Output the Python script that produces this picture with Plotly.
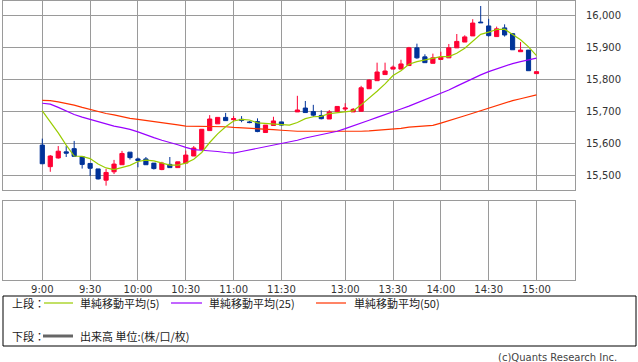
import plotly.graph_objects as go

# ---- data (5-minute bars; slot 31 is the empty slot between 11:30 and 12:30) ----
tick_labels = ["9:00", "9:30", "10:00", "10:30", "11:00", "11:30",
               "13:00", "13:30", "14:00", "14:30", "15:00"]
tick_slots = [0, 6, 12, 18, 24, 30, 38, 44, 50, 56, 62]

bar_slots = list(range(0, 31)) + list(range(32, 63))

opens = [15596, 15529, 15556, 15575, 15585, 15560, 15539, 15522, 15487, 15513,
         15535, 15574, 15553, 15553, 15540, 15520, 15536, 15526, 15540, 15562,
         15582, 15641, 15662, 15682, 15675, 15676, 15668, 15669, 15635, 15657,
         15668,
         15699, 15711, 15700, 15688, 15677, 15700, 15708, 15699, 15701, 15771,
         15796, 15815, 15832, 15832, 15843, 15898, 15870, 15850, 15862, 15867,
         15898, 15916, 15935, 15978, 15966, 15933, 15960, 15942, 15886, 15891,
         15818]
highs = [15616, 15565, 15593, 15593, 15609, 15560, 15539, 15522, 15522, 15550,
         15578, 15574, 15557, 15559, 15540, 15544, 15559, 15544, 15579, 15593,
         15646, 15689, 15682, 15696, 15686, 15686, 15671, 15679, 15658, 15684,
         15668,
         15749, 15733, 15721, 15704, 15705, 15717, 15726, 15711, 15780, 15800,
         15852, 15852, 15843, 15861, 15901, 15911, 15878, 15880, 15886, 15910,
         15941, 15937, 15987, 16028, 15988, 15964, 15971, 15943, 15916, 15891,
         15824]
lows = [15538, 15513, 15554, 15559, 15560, 15523, 15500, 15489, 15470, 15506,
        15535, 15551, 15527, 15535, 15520, 15518, 15526, 15526, 15540, 15562,
        15582, 15641, 15662, 15672, 15669, 15667, 15664, 15636, 15635, 15657,
        15657,
        15699, 15697, 15684, 15676, 15677, 15700, 15699, 15699, 15701, 15771,
        15796, 15815, 15832, 15832, 15843, 15864, 15852, 15850, 15862, 15867,
        15898, 15916, 15935, 15976, 15933, 15933, 15933, 15892, 15886, 15827,
        15818]
closes = [15538, 15562, 15577, 15571, 15561, 15536, 15524, 15491, 15511, 15537,
          15570, 15557, 15548, 15535, 15523, 15540, 15526, 15544, 15565, 15587,
          15645, 15677, 15682, 15672, 15678, 15673, 15666, 15638, 15658, 15671,
          15658,
          15705, 15697, 15689, 15678, 15699, 15716, 15711, 15707, 15774, 15798,
          15823, 15826, 15838, 15848, 15898, 15867, 15852, 15867, 15869, 15898,
          15918, 15932, 15975, 15976, 15936, 15957, 15938, 15892, 15891, 15827,
          15824]

ma_slots = list(range(0, 63))
ma5 = [15702, 15669, 15634, 15596, 15562, 15561, 15554, 15537, 15525, 15520,
       15527, 15533, 15545, 15549, 15547, 15541, 15534, 15534, 15540, 15552,
       15573, 15604, 15631, 15653, 15671, 15676, 15674, 15665, 15663, 15661,
       15658, 15658, 15666, 15678, 15684, 15685, 15694, 15696, 15699, 15702,
       15721, 15741, 15763, 15786, 15812, 15827, 15847, 15855, 15861, 15866,
       15871, 15871, 15881, 15897, 15918, 15940, 15947, 15955, 15956, 15940,
       15923, 15901, 15874]
ma25 = [15726, 15723, 15713, 15701, 15691, 15683, 15676, 15668, 15660, 15655,
        15650, 15645, 15637, 15627, 15619, 15611, 15605, 15597, 15589, 15582,
        15580, 15579, 15576, 15573, 15571, 15576, 15581, 15585, 15589, 15594,
        15599, 15604, 15611, 15618, 15623, 15627, 15632, 15639, 15647, 15655,
        15664, 15673, 15682, 15690, 15699, 15708, 15717, 15727, 15736, 15746,
        15755, 15767, 15779, 15791, 15803, 15814, 15824, 15833, 15841, 15849,
        15855, 15861, 15866]
ma50 = [15735, 15734, 15730, 15726, 15720, 15713, 15706, 15699, 15694, 15690,
        15684, 15679, 15676, 15673, 15670, 15666, 15662, 15659, 15655, 15655,
        15655, 15655, 15654, 15653, 15651, 15650, 15649, 15648, 15646, 15644,
        15642, 15640, 15639, 15639, 15639, 15638, 15638, 15637, 15637, 15638,
        15639, 15640, 15642, 15643, 15645, 15648, 15652, 15653, 15655, 15657,
        15664, 15671, 15679, 15687, 15695, 15703, 15711, 15719, 15727, 15734,
        15740, 15746, 15752]

price_ticks = [15500, 15600, 15700, 15800, 15900, 16000]

# ---- styles ----
RED = "#ff0033"
BLUE = "#003399"
C5 = "#99cc00"
C25 = "#9900ff"
C50 = "#ff3300"
GRID = "#9a9a9a"
FONT = "DejaVu Sans"
JFONT = "Noto Sans CJK JP"

W, H = 638, 362
L, R, T, B = 3, 63, 1, 82
PW = W - L - R
PH = H - T - B


def px(xp):
    return (xp - L) / PW


def py(yp):
    return (H - B - yp) / PH


fig = go.Figure()
fig.add_trace(go.Candlestick(
    x=bar_slots, open=opens, high=highs, low=lows, close=closes,
    increasing=dict(line=dict(color=RED, width=1), fillcolor=RED),
    decreasing=dict(line=dict(color=BLUE, width=1), fillcolor=BLUE),
    whiskerwidth=0, showlegend=False, xaxis="x", yaxis="y"))
for vals, col in [(ma50, C50), (ma25, C25), (ma5, C5)]:
    fig.add_trace(go.Scatter(x=ma_slots, y=vals, mode="lines",
                             line=dict(color=col, width=1.2),
                             showlegend=False, xaxis="x", yaxis="y"))
fig.add_trace(go.Scatter(x=[0], y=[None], mode="lines", showlegend=False,
                         xaxis="x2", yaxis="y2"))

xr = [-4.93, 66.83]
common_x = dict(range=xr, tickvals=tick_slots, ticktext=tick_labels,
                showgrid=True, gridcolor=GRID, gridwidth=1, showline=True,
                mirror=True, linecolor=GRID, linewidth=1, zeroline=False,
                ticks="", fixedrange=True)

fig.update_layout(
    width=W, height=H,
    margin=dict(l=L, r=R, t=T, b=B),
    paper_bgcolor="white", plot_bgcolor="white",
    boxgap=0.25,
    xaxis=dict(domain=[0, 1], anchor="y", showticklabels=False,
               rangeslider=dict(visible=False), **common_x),
    yaxis=dict(domain=[py(190), 1], anchor="x", side="right",
               range=[15456.5, 16043.5], tickvals=price_ticks,
               tickformat=",d", showgrid=True, gridcolor=GRID, gridwidth=1,
               showline=True, mirror=True, linecolor=GRID, linewidth=1,
               zeroline=False, ticks="", ticklabelstandoff=8,
               tickfont=dict(family=FONT, size=10, color="#333333")),
    xaxis2=dict(domain=[0, 1], anchor="y2", showticklabels=True,
                tickfont=dict(family=FONT, size=10, color="#333333"),
                **common_x),
    yaxis2=dict(domain=[0, py(201)], anchor="x2", range=[0, 1],
                showticklabels=False, showgrid=False, showline=True,
                mirror=True, linecolor=GRID, linewidth=1, zeroline=False),
)

# ---- legend box drawn below the panels ----
shapes = [
    dict(type="rect", xref="paper", yref="paper", x0=px(3), x1=px(636),
         y0=py(296), y1=py(346), line=dict(color="black", width=1),
         fillcolor="rgba(0,0,0,0)"),
    dict(type="line", xref="paper", yref="paper", x0=px(44), x1=px(73),
         y0=py(303), y1=py(303), line=dict(color=C5, width=1.2)),
    dict(type="line", xref="paper", yref="paper", x0=px(171), x1=px(202),
         y0=py(303), y1=py(303), line=dict(color=C25, width=1.2)),
    dict(type="line", xref="paper", yref="paper", x0=px(316), x1=px(346),
         y0=py(303), y1=py(303), line=dict(color=C50, width=1.2)),
    dict(type="line", xref="paper", yref="paper", x0=px(43), x1=px(73),
         y0=py(336), y1=py(336), line=dict(color="#666666", width=3)),
]
ann_font = dict(family=JFONT, size=11, color="#222222")
anns = [
    ("上段：", 10, 303),
    ("単純移動平均(5)", 78, 303),
    ("単純移動平均(25)", 207, 303),
    ("単純移動平均(50)", 352, 303),
    ("下段：", 10, 336),
    ("出来高 単位:(株/口/枚)", 78, 336),
]
annotations = [dict(text=t, xref="paper", yref="paper", x=px(xp), y=py(yp),
                    xanchor="left", yanchor="middle", showarrow=False,
                    font=ann_font) for t, xp, yp in anns]
annotations.append(dict(text="(c)Quants Research Inc.", xref="paper",
                        yref="paper", x=px(619), y=py(357), xanchor="right",
                        yanchor="middle", showarrow=False,
                        font=dict(family=FONT, size=10, color="#444444")))
fig.update_layout(shapes=shapes, annotations=annotations)

fig.write_html("out.html",
               config={"displayModeBar": False},
               post_script="document.body.style.margin='0';"
                           "document.body.style.overflow='hidden';")
